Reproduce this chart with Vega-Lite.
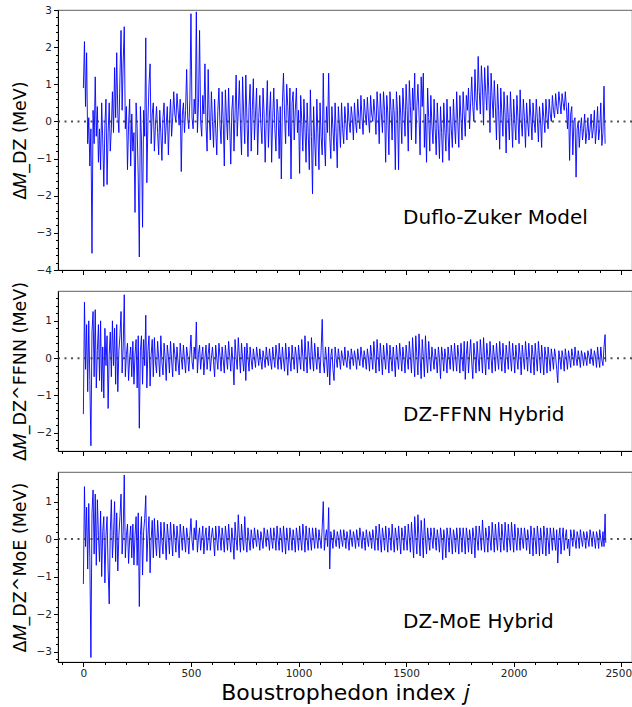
{
"$schema": "https://vega.github.io/schema/vega-lite/v6.json",
"background": "white",
"padding": {"left": 10, "top": 4, "right": 0, "bottom": 2},
"spacing": 21,
"bounds": "flush",
"config": {
  "view": {"stroke": "#808080", "strokeWidth": 1.2},
  "font": "DejaVu Sans",
  "axis": {"grid": false, "domainColor": "#000", "tickColor": "#000", "labelFont": "DejaVu Sans", "labelFontSize": 10.5, "labelColor": "#222", "titleFont": "DejaVu Sans", "titleFontWeight": "normal", "titleColor": "#000"}
},
"datasets": {
"dz": [
{"j":0,"v":0.9},{"j":5,"v":2.15},{"j":10,"v":0.4},{"j":15,"v":1.85},{"j":20,"v":-0.6},{"j":25,"v":0.1},{"j":30,"v":-1.2},{"j":35,"v":-0.2},{"j":40,"v":-3.55},{"j":45,"v":0.3},
{"j":50,"v":-0.6},{"j":55,"v":1.2},{"j":60,"v":-0.4},{"j":65,"v":0.4},{"j":70,"v":-1.1},{"j":75,"v":-0.2},{"j":80,"v":-1.3},{"j":85,"v":0.5},{"j":90,"v":-0.5},{"j":95,"v":-1.75},
{"j":100,"v":-0.1},{"j":105,"v":0.6},{"j":110,"v":-1.7},{"j":115,"v":-0.3},{"j":120,"v":0.5},{"j":125,"v":-0.8},{"j":130,"v":-0.2},{"j":135,"v":0.8},{"j":140,"v":-0.3},{"j":145,"v":1.45},
{"j":150,"v":0.1},{"j":155,"v":1.85},{"j":160,"v":0.2},{"j":165,"v":-0.3},{"j":170,"v":1.2},{"j":175,"v":2.45},{"j":180,"v":0.3},{"j":185,"v":1.6},{"j":190,"v":2.55},{"j":195,"v":-0.2},
{"j":200,"v":0.4},{"j":205,"v":-1.3},{"j":210,"v":-0.1},{"j":215,"v":0.6},{"j":220,"v":-1.2},{"j":225,"v":0.2},{"j":230,"v":-0.8},{"j":235,"v":-0.3},{"j":240,"v":-2.45},{"j":245,"v":0.5},
{"j":250,"v":-0.2},{"j":255,"v":-1.5},{"j":260,"v":-3.65},{"j":265,"v":0.4},{"j":270,"v":-0.5},{"j":275,"v":-2.85},{"j":280,"v":0.3},{"j":285,"v":-0.4},{"j":290,"v":2.25},{"j":295,"v":-1.65},
{"j":300,"v":0.0},{"j":305,"v":1.0},{"j":310,"v":1.55},{"j":315,"v":-0.6},{"j":320,"v":0.2},{"j":325,"v":0.5},{"j":330,"v":-0.8},{"j":335,"v":-0.1},{"j":340,"v":0.4},{"j":345,"v":-0.3},
{"j":350,"v":-0.9},{"j":355,"v":0.3},{"j":360,"v":-0.3},{"j":365,"v":-1.05},{"j":370,"v":0.1},{"j":375,"v":0.5},{"j":380,"v":-0.6},{"j":385,"v":-0.1},{"j":390,"v":0.4},{"j":395,"v":-0.9},
{"j":400,"v":0.0},{"j":405,"v":0.6},{"j":410,"v":-0.4},{"j":415,"v":0.1},{"j":420,"v":0.8},{"j":425,"v":0.2},{"j":430,"v":0.0},{"j":435,"v":0.75},{"j":440,"v":0.3},{"j":445,"v":-0.1},
{"j":450,"v":0.6},{"j":455,"v":-1.35},{"j":460,"v":0.2},{"j":465,"v":0.5},{"j":470,"v":-0.3},{"j":475,"v":0.3},{"j":480,"v":1.4},{"j":485,"v":0.1},{"j":490,"v":-0.2},{"j":495,"v":0.6},
{"j":500,"v":2.9},{"j":505,"v":0.1},{"j":510,"v":-0.2},{"j":515,"v":0.6},{"j":520,"v":0.2},{"j":525,"v":2.95},{"j":530,"v":-0.3},{"j":535,"v":0.5},{"j":540,"v":2.45},{"j":545,"v":0.0},
{"j":550,"v":-0.4},{"j":555,"v":0.7},{"j":560,"v":0.2},{"j":565,"v":1.55},{"j":570,"v":-0.1},{"j":575,"v":-0.8},{"j":580,"v":1.4},{"j":585,"v":0.1},{"j":590,"v":-0.5},{"j":595,"v":0.8},
{"j":600,"v":0.0},{"j":605,"v":-0.7},{"j":610,"v":0.6},{"j":615,"v":-0.2},{"j":620,"v":-0.9},{"j":625,"v":0.3},{"j":630,"v":0.9},{"j":635,"v":-0.1},{"j":640,"v":-0.6},{"j":645,"v":0.8},
{"j":650,"v":0.0},{"j":655,"v":-1.2},{"j":660,"v":0.85},{"j":665,"v":0.1},{"j":670,"v":-0.5},{"j":675,"v":0.9},{"j":680,"v":-0.1},{"j":685,"v":-1.15},{"j":690,"v":0.3},{"j":695,"v":0.7},
{"j":700,"v":-0.8},{"j":705,"v":0.2},{"j":710,"v":1.25},{"j":715,"v":-0.4},{"j":720,"v":0.3},{"j":725,"v":1.1},{"j":730,"v":-0.1},{"j":735,"v":-0.9},{"j":740,"v":1.2},{"j":745,"v":0.2},
{"j":750,"v":-0.6},{"j":755,"v":1.25},{"j":760,"v":0.1},{"j":765,"v":-0.95},{"j":770,"v":0.4},{"j":775,"v":1.0},{"j":780,"v":-0.8},{"j":785,"v":0.3},{"j":790,"v":1.15},{"j":795,"v":-0.5},
{"j":800,"v":0.2},{"j":805,"v":0.9},{"j":810,"v":-0.9},{"j":815,"v":0.1},{"j":820,"v":0.7},{"j":825,"v":-0.1},{"j":830,"v":-0.6},{"j":835,"v":0.9},{"j":840,"v":0.2},{"j":845,"v":-1.1},
{"j":850,"v":0.1},{"j":855,"v":1.1},{"j":860,"v":-0.7},{"j":865,"v":0.2},{"j":870,"v":0.8},{"j":875,"v":-1.1},{"j":880,"v":0.1},{"j":885,"v":0.9},{"j":890,"v":-0.2},{"j":895,"v":-0.8},
{"j":900,"v":0.6},{"j":905,"v":0.2},{"j":910,"v":-1.0},{"j":915,"v":0.4},{"j":920,"v":-1.55},{"j":925,"v":0.5},{"j":930,"v":1.3},{"j":935,"v":0.2},{"j":940,"v":-0.6},{"j":945,"v":1.0},
{"j":950,"v":0.4},{"j":955,"v":-0.4},{"j":960,"v":0.9},{"j":965,"v":-1.55},{"j":970,"v":0.5},{"j":975,"v":0.8},{"j":980,"v":-0.5},{"j":985,"v":0.3},{"j":990,"v":0.9},{"j":995,"v":-0.3},
{"j":1000,"v":0.3},{"j":1005,"v":-1.4},{"j":1010,"v":0.7},{"j":1015,"v":0.0},{"j":1020,"v":-0.8},{"j":1025,"v":0.6},{"j":1030,"v":-0.2},{"j":1035,"v":-1.1},{"j":1040,"v":0.5},{"j":1045,"v":-0.3},
{"j":1050,"v":-1.3},{"j":1055,"v":0.85},{"j":1060,"v":-0.4},{"j":1065,"v":-1.95},{"j":1070,"v":0.4},{"j":1075,"v":-0.5},{"j":1080,"v":-1.2},{"j":1085,"v":0.6},{"j":1090,"v":-0.3},{"j":1095,"v":-1.3},
{"j":1100,"v":0.5},{"j":1105,"v":-0.4},{"j":1110,"v":-0.9},{"j":1115,"v":1.3},{"j":1120,"v":-0.5},{"j":1125,"v":-1.2},{"j":1130,"v":0.4},{"j":1135,"v":-0.3},{"j":1140,"v":1.3},{"j":1145,"v":-0.4},
{"j":1150,"v":-1.0},{"j":1155,"v":0.4},{"j":1160,"v":-0.2},{"j":1165,"v":-0.8},{"j":1170,"v":0.5},{"j":1175,"v":-0.3},{"j":1180,"v":-1.25},{"j":1185,"v":0.4},{"j":1190,"v":-0.1},{"j":1195,"v":-0.7},
{"j":1200,"v":0.5},{"j":1205,"v":-0.2},{"j":1210,"v":-0.6},{"j":1215,"v":0.4},{"j":1220,"v":0.0},{"j":1225,"v":-0.5},{"j":1230,"v":0.5},{"j":1235,"v":0.0},{"j":1240,"v":-0.3},{"j":1245,"v":0.4},
{"j":1250,"v":0.1},{"j":1255,"v":-0.5},{"j":1260,"v":0.5},{"j":1265,"v":0.0},{"j":1270,"v":-0.3},{"j":1275,"v":0.6},{"j":1280,"v":0.1},{"j":1285,"v":-0.2},{"j":1290,"v":0.7},{"j":1295,"v":0.1},
{"j":1300,"v":-0.35},{"j":1305,"v":0.6},{"j":1310,"v":0.2},{"j":1315,"v":-0.1},{"j":1320,"v":0.65},{"j":1325,"v":0.1},{"j":1330,"v":-0.3},{"j":1335,"v":0.7},{"j":1340,"v":0.2},{"j":1345,"v":0.0},
{"j":1350,"v":0.6},{"j":1355,"v":0.2},{"j":1360,"v":-0.35},{"j":1365,"v":0.8},{"j":1370,"v":0.3},{"j":1375,"v":-0.6},{"j":1380,"v":0.75},{"j":1385,"v":0.2},{"j":1390,"v":-0.3},{"j":1395,"v":0.8},
{"j":1400,"v":0.3},{"j":1405,"v":-1.1},{"j":1410,"v":0.7},{"j":1415,"v":0.2},{"j":1420,"v":-0.9},{"j":1425,"v":0.8},{"j":1430,"v":0.3},{"j":1435,"v":-0.5},{"j":1440,"v":0.6},{"j":1445,"v":0.2},
{"j":1450,"v":-1.3},{"j":1455,"v":0.8},{"j":1460,"v":0.3},{"j":1465,"v":-1.3},{"j":1470,"v":0.7},{"j":1475,"v":0.2},{"j":1480,"v":-0.6},{"j":1485,"v":0.9},{"j":1490,"v":0.3},{"j":1495,"v":-0.4},
{"j":1500,"v":1.0},{"j":1505,"v":0.3},{"j":1510,"v":-0.8},{"j":1515,"v":1.1},{"j":1520,"v":0.4},{"j":1525,"v":-0.5},{"j":1530,"v":0.9},{"j":1535,"v":0.3},{"j":1540,"v":1.3},{"j":1545,"v":-0.6},
{"j":1550,"v":0.4},{"j":1555,"v":1.0},{"j":1560,"v":0.2},{"j":1565,"v":-0.9},{"j":1570,"v":1.2},{"j":1575,"v":0.4},{"j":1580,"v":1.3},{"j":1585,"v":-0.7},{"j":1590,"v":0.2},{"j":1595,"v":-1.1},
{"j":1600,"v":0.9},{"j":1605,"v":0.1},{"j":1610,"v":-0.8},{"j":1615,"v":0.7},{"j":1620,"v":-0.1},{"j":1625,"v":-0.6},{"j":1630,"v":0.6},{"j":1635,"v":-0.2},{"j":1640,"v":-0.9},{"j":1645,"v":0.5},
{"j":1650,"v":-0.2},{"j":1655,"v":-1.0},{"j":1660,"v":0.4},{"j":1665,"v":-0.3},{"j":1670,"v":-1.1},{"j":1675,"v":0.5},{"j":1680,"v":-0.2},{"j":1685,"v":-0.8},{"j":1690,"v":0.6},{"j":1695,"v":-0.3},
{"j":1700,"v":-1.05},{"j":1705,"v":0.4},{"j":1710,"v":-0.2},{"j":1715,"v":-0.7},{"j":1720,"v":0.6},{"j":1725,"v":-0.1},{"j":1730,"v":-0.6},{"j":1735,"v":0.8},{"j":1740,"v":0.0},{"j":1745,"v":-0.7},
{"j":1750,"v":0.7},{"j":1755,"v":0.1},{"j":1760,"v":-0.5},{"j":1765,"v":0.8},{"j":1770,"v":0.2},{"j":1775,"v":-0.4},{"j":1780,"v":0.7},{"j":1785,"v":0.3},{"j":1790,"v":0.9},{"j":1795,"v":-0.2},
{"j":1800,"v":0.5},{"j":1805,"v":1.2},{"j":1810,"v":0.4},{"j":1815,"v":0.0},{"j":1820,"v":1.4},{"j":1825,"v":0.6},{"j":1830,"v":0.3},{"j":1835,"v":1.75},{"j":1840,"v":0.8},{"j":1845,"v":0.2},
{"j":1850,"v":1.5},{"j":1855,"v":0.9},{"j":1860,"v":-0.1},{"j":1865,"v":1.45},{"j":1870,"v":0.8},{"j":1875,"v":0.3},{"j":1880,"v":1.5},{"j":1885,"v":0.7},{"j":1890,"v":-0.3},{"j":1895,"v":1.3},
{"j":1900,"v":0.6},{"j":1905,"v":0.1},{"j":1910,"v":1.1},{"j":1915,"v":0.4},{"j":1920,"v":-0.5},{"j":1925,"v":1.0},{"j":1930,"v":0.3},{"j":1935,"v":-0.75},{"j":1940,"v":0.9},{"j":1945,"v":0.2},
{"j":1950,"v":-0.4},{"j":1955,"v":0.8},{"j":1960,"v":0.2},{"j":1965,"v":-0.85},{"j":1970,"v":0.7},{"j":1975,"v":0.1},{"j":1980,"v":-0.5},{"j":1985,"v":0.8},{"j":1990,"v":0.1},{"j":1995,"v":-0.7},
{"j":2000,"v":0.6},{"j":2005,"v":0.0},{"j":2010,"v":-0.5},{"j":2015,"v":0.7},{"j":2020,"v":0.1},{"j":2025,"v":-0.6},{"j":2030,"v":0.85},{"j":2035,"v":0.0},{"j":2040,"v":-0.4},{"j":2045,"v":0.6},
{"j":2050,"v":0.1},{"j":2055,"v":-0.7},{"j":2060,"v":0.5},{"j":2065,"v":0.0},{"j":2070,"v":-0.4},{"j":2075,"v":0.6},{"j":2080,"v":0.1},{"j":2085,"v":-0.5},{"j":2090,"v":0.5},{"j":2095,"v":0.0},
{"j":2100,"v":-0.3},{"j":2105,"v":0.6},{"j":2110,"v":0.1},{"j":2115,"v":-0.55},{"j":2120,"v":0.4},{"j":2125,"v":0.0},{"j":2130,"v":-0.7},{"j":2135,"v":0.5},{"j":2140,"v":0.1},{"j":2145,"v":-0.3},
{"j":2150,"v":0.6},{"j":2155,"v":0.1},{"j":2160,"v":-0.2},{"j":2165,"v":0.6},{"j":2170,"v":0.2},{"j":2175,"v":0.0},{"j":2180,"v":0.7},{"j":2185,"v":0.3},{"j":2190,"v":0.1},{"j":2195,"v":0.75},
{"j":2200,"v":0.4},{"j":2205,"v":0.2},{"j":2210,"v":0.8},{"j":2215,"v":0.5},{"j":2220,"v":0.2},{"j":2225,"v":0.75},{"j":2230,"v":0.5},{"j":2235,"v":0.3},{"j":2240,"v":0.8},{"j":2245,"v":0.4},
{"j":2250,"v":-0.2},{"j":2255,"v":0.5},{"j":2260,"v":-1.05},{"j":2265,"v":0.2},{"j":2270,"v":0.4},{"j":2275,"v":-0.9},{"j":2280,"v":0.0},{"j":2285,"v":0.1},{"j":2290,"v":-1.5},{"j":2295,"v":-0.2},
{"j":2300,"v":0.0},{"j":2305,"v":-0.7},{"j":2310,"v":-0.2},{"j":2315,"v":0.1},{"j":2320,"v":-0.5},{"j":2325,"v":-0.2},{"j":2330,"v":0.2},{"j":2335,"v":-0.6},{"j":2340,"v":-0.3},{"j":2345,"v":0.1},
{"j":2350,"v":-0.5},{"j":2355,"v":-0.2},{"j":2360,"v":0.2},{"j":2365,"v":-0.45},{"j":2370,"v":-0.2},{"j":2375,"v":0.3},{"j":2380,"v":-0.6},{"j":2385,"v":-0.2},{"j":2390,"v":0.4},{"j":2395,"v":-0.5},
{"j":2400,"v":-0.2},{"j":2405,"v":0.5},{"j":2410,"v":-0.65},{"j":2415,"v":-0.3},{"j":2420,"v":0.95},{"j":2425,"v":-0.6}
],
"ffnn": [
{"j":0,"v":-1.5},{"j":5,"v":1.5},{"j":10,"v":-0.3},{"j":15,"v":0.9},{"j":20,"v":-0.9},{"j":25,"v":1.0},{"j":30,"v":-0.6},{"j":35,"v":-2.35},{"j":40,"v":0.7},{"j":45,"v":1.25},
{"j":50,"v":-0.5},{"j":55,"v":1.3},{"j":60,"v":-0.8},{"j":65,"v":0.2},{"j":70,"v":0.9},{"j":75,"v":-0.6},{"j":80,"v":1.0},{"j":85,"v":-0.9},{"j":90,"v":0.3},{"j":95,"v":-1.07},
{"j":100,"v":0.8},{"j":105,"v":-0.2},{"j":110,"v":0.6},{"j":115,"v":-1.35},{"j":120,"v":0.1},{"j":125,"v":0.7},{"j":130,"v":-0.5},{"j":135,"v":1.0},{"j":140,"v":-0.2},{"j":145,"v":0.8},
{"j":150,"v":-0.7},{"j":155,"v":0.9},{"j":160,"v":-0.9},{"j":165,"v":0.2},{"j":170,"v":0.6},{"j":175,"v":1.25},{"j":180,"v":-0.4},{"j":185,"v":0.3},{"j":190,"v":1.7},{"j":195,"v":-0.5},
{"j":200,"v":0.1},{"j":205,"v":0.4},{"j":210,"v":-0.6},{"j":215,"v":0.0},{"j":220,"v":0.3},{"j":225,"v":-0.5},{"j":230,"v":0.45},{"j":235,"v":-0.7},{"j":240,"v":0.1},{"j":245,"v":0.5},
{"j":250,"v":-0.8},{"j":255,"v":0.6},{"j":260,"v":-1.88},{"j":265,"v":0.2},{"j":270,"v":0.6},{"j":275,"v":-0.7},{"j":280,"v":0.5},{"j":285,"v":-0.2},{"j":290,"v":1.15},{"j":295,"v":-0.8},
{"j":300,"v":0.2},{"j":305,"v":0.6},{"j":310,"v":-0.75},{"j":315,"v":0.1},{"j":320,"v":0.5},{"j":325,"v":-0.5},{"j":330,"v":0.55},{"j":335,"v":-0.1},{"j":340,"v":-0.4},{"j":345,"v":0.45},
{"j":350,"v":0.0},{"j":355,"v":-0.5},{"j":360,"v":0.6},{"j":365,"v":-0.1},{"j":370,"v":-0.45},{"j":375,"v":0.4},{"j":380,"v":0.0},{"j":385,"v":-0.6},{"j":390,"v":0.35},{"j":395,"v":0.05},
{"j":400,"v":-0.4},{"j":405,"v":0.45},{"j":410,"v":-0.05},{"j":415,"v":-0.5},{"j":420,"v":0.4},{"j":425,"v":0.1},{"j":430,"v":-0.35},{"j":435,"v":0.3},{"j":440,"v":-0.1},{"j":445,"v":-0.45},
{"j":450,"v":0.4},{"j":455,"v":0.0},{"j":460,"v":-0.3},{"j":465,"v":0.35},{"j":470,"v":-0.05},{"j":475,"v":-0.4},{"j":480,"v":0.3},{"j":485,"v":0.05},{"j":490,"v":-0.35},{"j":495,"v":0.1},
{"j":500,"v":0.62},{"j":505,"v":-0.1},{"j":510,"v":-0.3},{"j":515,"v":0.3},{"j":520,"v":0.0},{"j":525,"v":0.97},{"j":530,"v":-0.4},{"j":535,"v":0.1},{"j":540,"v":0.35},{"j":545,"v":-0.3},
{"j":550,"v":0.05},{"j":555,"v":0.3},{"j":560,"v":-0.45},{"j":565,"v":0.0},{"j":570,"v":0.35},{"j":575,"v":-0.3},{"j":580,"v":0.1},{"j":585,"v":0.4},{"j":590,"v":-0.35},{"j":595,"v":0.0},
{"j":600,"v":0.3},{"j":605,"v":-0.1},{"j":610,"v":-0.5},{"j":615,"v":0.35},{"j":620,"v":0.0},{"j":625,"v":-0.3},{"j":630,"v":0.4},{"j":635,"v":0.05},{"j":640,"v":-0.35},{"j":645,"v":0.3},
{"j":650,"v":-0.05},{"j":655,"v":-0.4},{"j":660,"v":0.35},{"j":665,"v":0.0},{"j":670,"v":-0.3},{"j":675,"v":0.45},{"j":680,"v":0.05},{"j":685,"v":-0.35},{"j":690,"v":0.3},{"j":695,"v":-0.1},
{"j":700,"v":-0.72},{"j":705,"v":0.5},{"j":710,"v":0.0},{"j":715,"v":-0.3},{"j":720,"v":0.55},{"j":725,"v":0.05},{"j":730,"v":-0.4},{"j":735,"v":0.4},{"j":740,"v":0.0},{"j":745,"v":-0.35},
{"j":750,"v":0.3},{"j":755,"v":-0.6},{"j":760,"v":0.4},{"j":765,"v":0.0},{"j":770,"v":-0.35},{"j":775,"v":0.3},{"j":780,"v":-0.05},{"j":785,"v":-0.3},{"j":790,"v":0.25},{"j":795,"v":0.0},
{"j":800,"v":-0.25},{"j":805,"v":0.3},{"j":810,"v":0.05},{"j":815,"v":-0.2},{"j":820,"v":0.25},{"j":825,"v":-0.05},{"j":830,"v":-0.3},{"j":835,"v":0.2},{"j":840,"v":0.0},{"j":845,"v":-0.25},
{"j":850,"v":0.3},{"j":855,"v":0.0},{"j":860,"v":-0.2},{"j":865,"v":0.25},{"j":870,"v":-0.05},{"j":875,"v":-0.3},{"j":880,"v":0.3},{"j":885,"v":0.0},{"j":890,"v":-0.25},{"j":895,"v":0.35},
{"j":900,"v":0.05},{"j":905,"v":-0.3},{"j":910,"v":0.4},{"j":915,"v":0.0},{"j":920,"v":-0.3},{"j":925,"v":0.3},{"j":930,"v":-0.05},{"j":935,"v":-0.35},{"j":940,"v":0.4},{"j":945,"v":0.0},
{"j":950,"v":-0.46},{"j":955,"v":0.3},{"j":960,"v":-0.05},{"j":965,"v":-0.35},{"j":970,"v":0.35},{"j":975,"v":0.0},{"j":980,"v":-0.3},{"j":985,"v":0.3},{"j":990,"v":0.05},{"j":995,"v":-0.4},
{"j":1000,"v":0.35},{"j":1005,"v":0.0},{"j":1010,"v":-0.3},{"j":1015,"v":0.5},{"j":1020,"v":0.05},{"j":1025,"v":-0.35},{"j":1030,"v":0.6},{"j":1035,"v":0.0},{"j":1040,"v":-0.4},{"j":1045,"v":0.45},
{"j":1050,"v":0.05},{"j":1055,"v":-0.3},{"j":1060,"v":0.55},{"j":1065,"v":0.0},{"j":1070,"v":-0.35},{"j":1075,"v":0.4},{"j":1080,"v":0.0},{"j":1085,"v":-0.3},{"j":1090,"v":0.3},{"j":1095,"v":-0.05},
{"j":1100,"v":-0.4},{"j":1105,"v":0.2},{"j":1110,"v":1.04},{"j":1115,"v":-0.1},{"j":1120,"v":-0.4},{"j":1125,"v":0.3},{"j":1130,"v":0.0},{"j":1135,"v":-0.5},{"j":1140,"v":0.3},{"j":1145,"v":-0.72},
{"j":1150,"v":0.05},{"j":1155,"v":0.25},{"j":1160,"v":-0.3},{"j":1165,"v":-0.6},{"j":1170,"v":0.3},{"j":1175,"v":0.0},{"j":1180,"v":-0.25},{"j":1185,"v":0.25},{"j":1190,"v":0.0},{"j":1195,"v":-0.3},
{"j":1200,"v":0.2},{"j":1205,"v":0.0},{"j":1210,"v":-0.2},{"j":1215,"v":0.3},{"j":1220,"v":-0.05},{"j":1225,"v":-0.25},{"j":1230,"v":0.2},{"j":1235,"v":0.0},{"j":1240,"v":-0.3},{"j":1245,"v":0.25},
{"j":1250,"v":0.05},{"j":1255,"v":-0.2},{"j":1260,"v":0.2},{"j":1265,"v":0.0},{"j":1270,"v":-0.3},{"j":1275,"v":0.25},{"j":1280,"v":0.0},{"j":1285,"v":-0.2},{"j":1290,"v":0.3},{"j":1295,"v":0.05},
{"j":1300,"v":-0.25},{"j":1305,"v":0.2},{"j":1310,"v":0.0},{"j":1315,"v":-0.3},{"j":1320,"v":0.25},{"j":1325,"v":0.0},{"j":1330,"v":-0.35},{"j":1335,"v":0.35},{"j":1340,"v":0.05},{"j":1345,"v":-0.3},
{"j":1350,"v":0.45},{"j":1355,"v":0.0},{"j":1360,"v":-0.4},{"j":1365,"v":0.5},{"j":1370,"v":0.05},{"j":1375,"v":-0.35},{"j":1380,"v":0.4},{"j":1385,"v":0.0},{"j":1390,"v":-0.45},{"j":1395,"v":0.35},
{"j":1400,"v":0.0},{"j":1405,"v":-0.3},{"j":1410,"v":0.4},{"j":1415,"v":0.05},{"j":1420,"v":-0.4},{"j":1425,"v":0.35},{"j":1430,"v":0.0},{"j":1435,"v":-0.35},{"j":1440,"v":0.3},{"j":1445,"v":-0.05},
{"j":1450,"v":-0.5},{"j":1455,"v":0.35},{"j":1460,"v":0.0},{"j":1465,"v":-0.3},{"j":1470,"v":0.4},{"j":1475,"v":0.05},{"j":1480,"v":-0.35},{"j":1485,"v":0.3},{"j":1490,"v":0.0},{"j":1495,"v":-0.4},
{"j":1500,"v":0.35},{"j":1505,"v":0.0},{"j":1510,"v":-0.3},{"j":1515,"v":0.45},{"j":1520,"v":0.05},{"j":1525,"v":-0.4},{"j":1530,"v":0.55},{"j":1535,"v":0.0},{"j":1540,"v":-0.5},{"j":1545,"v":0.6},
{"j":1550,"v":0.05},{"j":1555,"v":-0.45},{"j":1560,"v":0.65},{"j":1565,"v":0.0},{"j":1570,"v":-0.55},{"j":1575,"v":0.5},{"j":1580,"v":0.05},{"j":1585,"v":-0.5},{"j":1590,"v":0.6},{"j":1595,"v":0.0},
{"j":1600,"v":-0.4},{"j":1605,"v":0.45},{"j":1610,"v":0.0},{"j":1615,"v":-0.35},{"j":1620,"v":0.3},{"j":1625,"v":0.0},{"j":1630,"v":-0.3},{"j":1635,"v":0.25},{"j":1640,"v":-0.05},{"j":1645,"v":-0.4},
{"j":1650,"v":0.3},{"j":1655,"v":0.0},{"j":1660,"v":-0.55},{"j":1665,"v":0.3},{"j":1670,"v":0.05},{"j":1675,"v":-0.35},{"j":1680,"v":0.25},{"j":1685,"v":0.0},{"j":1690,"v":-0.4},{"j":1695,"v":0.3},
{"j":1700,"v":0.0},{"j":1705,"v":-0.3},{"j":1710,"v":0.35},{"j":1715,"v":0.05},{"j":1720,"v":-0.35},{"j":1725,"v":0.4},{"j":1730,"v":0.0},{"j":1735,"v":-0.35},{"j":1740,"v":0.35},{"j":1745,"v":0.05},
{"j":1750,"v":-0.4},{"j":1755,"v":0.4},{"j":1760,"v":0.0},{"j":1765,"v":-0.35},{"j":1770,"v":0.45},{"j":1775,"v":-0.57},{"j":1780,"v":0.1},{"j":1785,"v":0.45},{"j":1790,"v":-0.4},{"j":1795,"v":0.05},
{"j":1800,"v":0.5},{"j":1805,"v":-0.1},{"j":1810,"v":-0.55},{"j":1815,"v":0.4},{"j":1820,"v":0.05},{"j":1825,"v":-0.4},{"j":1830,"v":0.45},{"j":1835,"v":0.0},{"j":1840,"v":-0.35},{"j":1845,"v":0.5},
{"j":1850,"v":0.05},{"j":1855,"v":-0.4},{"j":1860,"v":0.55},{"j":1865,"v":0.0},{"j":1870,"v":-0.45},{"j":1875,"v":0.4},{"j":1880,"v":0.05},{"j":1885,"v":-0.3},{"j":1890,"v":0.45},{"j":1895,"v":0.0},
{"j":1900,"v":-0.4},{"j":1905,"v":0.35},{"j":1910,"v":0.05},{"j":1915,"v":-0.35},{"j":1920,"v":0.4},{"j":1925,"v":0.0},{"j":1930,"v":-0.3},{"j":1935,"v":0.45},{"j":1940,"v":0.05},{"j":1945,"v":-0.35},
{"j":1950,"v":0.4},{"j":1955,"v":0.0},{"j":1960,"v":-0.4},{"j":1965,"v":0.35},{"j":1970,"v":0.05},{"j":1975,"v":-0.3},{"j":1980,"v":0.45},{"j":1985,"v":0.0},{"j":1990,"v":-0.35},{"j":1995,"v":0.4},
{"j":2000,"v":0.05},{"j":2005,"v":-0.4},{"j":2010,"v":0.35},{"j":2015,"v":0.0},{"j":2020,"v":-0.3},{"j":2025,"v":0.4},{"j":2030,"v":0.05},{"j":2035,"v":-0.45},{"j":2040,"v":0.35},{"j":2045,"v":0.0},
{"j":2050,"v":-0.3},{"j":2055,"v":0.45},{"j":2060,"v":0.05},{"j":2065,"v":-0.35},{"j":2070,"v":0.4},{"j":2075,"v":0.0},{"j":2080,"v":-0.4},{"j":2085,"v":0.35},{"j":2090,"v":0.05},{"j":2095,"v":-0.45},
{"j":2100,"v":0.4},{"j":2105,"v":0.0},{"j":2110,"v":-0.35},{"j":2115,"v":0.45},{"j":2120,"v":0.05},{"j":2125,"v":-0.4},{"j":2130,"v":0.35},{"j":2135,"v":0.0},{"j":2140,"v":-0.45},{"j":2145,"v":0.3},
{"j":2150,"v":0.05},{"j":2155,"v":-0.4},{"j":2160,"v":0.3},{"j":2165,"v":0.0},{"j":2170,"v":-0.35},{"j":2175,"v":0.25},{"j":2180,"v":0.0},{"j":2185,"v":-0.3},{"j":2190,"v":0.25},{"j":2195,"v":0.05},
{"j":2200,"v":-0.3},{"j":2205,"v":-0.66},{"j":2210,"v":0.2},{"j":2215,"v":0.0},{"j":2220,"v":-0.3},{"j":2225,"v":0.2},{"j":2230,"v":0.0},{"j":2235,"v":-0.35},{"j":2240,"v":0.25},{"j":2245,"v":0.0},
{"j":2250,"v":-0.3},{"j":2255,"v":0.2},{"j":2260,"v":0.0},{"j":2265,"v":-0.25},{"j":2270,"v":0.25},{"j":2275,"v":0.05},{"j":2280,"v":-0.2},{"j":2285,"v":0.3},{"j":2290,"v":0.0},{"j":2295,"v":-0.2},
{"j":2300,"v":0.2},{"j":2305,"v":0.0},{"j":2310,"v":-0.25},{"j":2315,"v":0.2},{"j":2320,"v":0.05},{"j":2325,"v":-0.2},{"j":2330,"v":0.15},{"j":2335,"v":0.0},{"j":2340,"v":-0.2},{"j":2345,"v":0.2},
{"j":2350,"v":0.05},{"j":2355,"v":-0.15},{"j":2360,"v":0.25},{"j":2365,"v":0.0},{"j":2370,"v":-0.2},{"j":2375,"v":0.2},{"j":2380,"v":0.05},{"j":2385,"v":-0.25},{"j":2390,"v":0.3},{"j":2395,"v":0.0},
{"j":2400,"v":-0.25},{"j":2405,"v":0.3},{"j":2410,"v":-0.05},{"j":2415,"v":-0.2},{"j":2420,"v":0.3},{"j":2425,"v":0.63},{"j":2428,"v":-0.1}
],
"moe": [
{"j":0,"v":-1.2},{"j":5,"v":1.4},{"j":10,"v":-0.2},{"j":15,"v":0.85},{"j":20,"v":-0.8},{"j":25,"v":0.95},{"j":30,"v":-0.5},{"j":35,"v":-3.16},{"j":40,"v":0.7},{"j":45,"v":1.31},
{"j":50,"v":-0.4},{"j":55,"v":1.2},{"j":60,"v":-0.7},{"j":65,"v":1.05},{"j":70,"v":0.1},{"j":75,"v":-0.6},{"j":80,"v":0.75},{"j":85,"v":-1.0},{"j":90,"v":0.2},{"j":95,"v":0.6},
{"j":100,"v":-1.17},{"j":105,"v":0.1},{"j":110,"v":0.6},{"j":115,"v":-0.8},{"j":120,"v":-1.73},{"j":125,"v":0.2},{"j":130,"v":1.05},{"j":135,"v":-0.5},{"j":140,"v":0.1},{"j":145,"v":1.0},
{"j":150,"v":-0.6},{"j":155,"v":0.7},{"j":160,"v":-0.85},{"j":165,"v":0.1},{"j":170,"v":0.6},{"j":175,"v":1.2},{"j":180,"v":-0.4},{"j":185,"v":0.2},{"j":190,"v":1.71},{"j":195,"v":-0.5},
{"j":200,"v":0.1},{"j":205,"v":0.4},{"j":210,"v":-0.65},{"j":215,"v":0.0},{"j":220,"v":0.35},{"j":225,"v":-0.5},{"j":230,"v":0.4},{"j":235,"v":-0.69},{"j":240,"v":0.1},{"j":245,"v":0.6},
{"j":250,"v":-0.7},{"j":255,"v":0.7},{"j":260,"v":-1.8},{"j":265,"v":0.1},{"j":270,"v":0.6},{"j":275,"v":-0.96},{"j":280,"v":0.2},{"j":285,"v":0.55},{"j":290,"v":1.16},{"j":295,"v":-0.6},
{"j":300,"v":0.1},{"j":305,"v":0.6},{"j":310,"v":-0.9},{"j":315,"v":0.0},{"j":320,"v":0.5},{"j":325,"v":-0.5},{"j":330,"v":0.55},{"j":335,"v":-0.05},{"j":340,"v":-0.45},{"j":345,"v":0.5},
{"j":350,"v":0.0},{"j":355,"v":-0.5},{"j":360,"v":0.45},{"j":365,"v":-0.05},{"j":370,"v":-0.4},{"j":375,"v":0.45},{"j":380,"v":0.0},{"j":385,"v":-0.55},{"j":390,"v":0.4},{"j":395,"v":0.05},
{"j":400,"v":-0.4},{"j":405,"v":0.45},{"j":410,"v":0.0},{"j":415,"v":-0.45},{"j":420,"v":0.4},{"j":425,"v":0.05},{"j":430,"v":-0.35},{"j":435,"v":0.35},{"j":440,"v":0.0},{"j":445,"v":-0.5},
{"j":450,"v":0.4},{"j":455,"v":0.05},{"j":460,"v":-0.3},{"j":465,"v":0.35},{"j":470,"v":0.0},{"j":475,"v":-0.35},{"j":480,"v":0.3},{"j":485,"v":0.05},{"j":490,"v":-0.4},{"j":495,"v":0.1},
{"j":500,"v":0.55},{"j":505,"v":-0.05},{"j":510,"v":-0.3},{"j":515,"v":0.3},{"j":520,"v":0.0},{"j":525,"v":0.5},{"j":530,"v":-0.35},{"j":535,"v":0.05},{"j":540,"v":0.3},{"j":545,"v":-0.3},
{"j":550,"v":0.0},{"j":555,"v":0.35},{"j":560,"v":-0.4},{"j":565,"v":0.05},{"j":570,"v":0.3},{"j":575,"v":-0.3},{"j":580,"v":0.0},{"j":585,"v":0.35},{"j":590,"v":-0.3},{"j":595,"v":0.05},
{"j":600,"v":0.3},{"j":605,"v":-0.05},{"j":610,"v":-0.45},{"j":615,"v":0.35},{"j":620,"v":0.0},{"j":625,"v":-0.3},{"j":630,"v":0.35},{"j":635,"v":0.05},{"j":640,"v":-0.3},{"j":645,"v":0.3},
{"j":650,"v":0.0},{"j":655,"v":-0.35},{"j":660,"v":0.35},{"j":665,"v":0.05},{"j":670,"v":-0.3},{"j":675,"v":0.4},{"j":680,"v":0.0},{"j":685,"v":-0.35},{"j":690,"v":0.3},{"j":695,"v":-0.05},
{"j":700,"v":-0.54},{"j":705,"v":0.45},{"j":710,"v":0.0},{"j":715,"v":-0.3},{"j":720,"v":0.65},{"j":725,"v":0.05},{"j":730,"v":-0.35},{"j":735,"v":0.4},{"j":740,"v":0.0},{"j":745,"v":-0.3},
{"j":750,"v":0.6},{"j":755,"v":-0.05},{"j":760,"v":-0.35},{"j":765,"v":0.3},{"j":770,"v":0.0},{"j":775,"v":-0.3},{"j":780,"v":0.25},{"j":785,"v":0.0},{"j":790,"v":-0.25},{"j":795,"v":0.3},
{"j":800,"v":0.05},{"j":805,"v":-0.2},{"j":810,"v":0.25},{"j":815,"v":0.0},{"j":820,"v":-0.3},{"j":825,"v":0.2},{"j":830,"v":0.0},{"j":835,"v":-0.25},{"j":840,"v":0.3},{"j":845,"v":0.05},
{"j":850,"v":-0.2},{"j":855,"v":0.25},{"j":860,"v":0.0},{"j":865,"v":-0.3},{"j":870,"v":0.3},{"j":875,"v":0.0},{"j":880,"v":-0.25},{"j":885,"v":0.3},{"j":890,"v":0.05},{"j":895,"v":-0.3},
{"j":900,"v":0.35},{"j":905,"v":0.0},{"j":910,"v":-0.3},{"j":915,"v":0.3},{"j":920,"v":0.05},{"j":925,"v":-0.35},{"j":930,"v":0.35},{"j":935,"v":0.0},{"j":940,"v":-0.4},{"j":945,"v":0.3},
{"j":950,"v":0.0},{"j":955,"v":-0.3},{"j":960,"v":0.3},{"j":965,"v":0.05},{"j":970,"v":-0.3},{"j":975,"v":0.25},{"j":980,"v":0.0},{"j":985,"v":-0.35},{"j":990,"v":0.3},{"j":995,"v":0.05},
{"j":1000,"v":-0.3},{"j":1005,"v":0.35},{"j":1010,"v":0.0},{"j":1015,"v":-0.3},{"j":1020,"v":0.4},{"j":1025,"v":0.05},{"j":1030,"v":-0.35},{"j":1035,"v":0.35},{"j":1040,"v":0.0},{"j":1045,"v":-0.3},
{"j":1050,"v":0.3},{"j":1055,"v":0.0},{"j":1060,"v":-0.3},{"j":1065,"v":0.3},{"j":1070,"v":0.05},{"j":1075,"v":-0.25},{"j":1080,"v":0.3},{"j":1085,"v":0.0},{"j":1090,"v":-0.25},{"j":1095,"v":0.25},
{"j":1100,"v":0.0},{"j":1105,"v":-0.25},{"j":1110,"v":0.3},{"j":1115,"v":1.0},{"j":1120,"v":-0.3},{"j":1125,"v":0.05},{"j":1130,"v":0.25},{"j":1135,"v":-0.2},{"j":1140,"v":0.84},{"j":1145,"v":-0.8},
{"j":1150,"v":0.2},{"j":1155,"v":0.0},{"j":1160,"v":-0.25},{"j":1165,"v":0.25},{"j":1170,"v":0.0},{"j":1175,"v":-0.2},{"j":1180,"v":0.2},{"j":1185,"v":0.05},{"j":1190,"v":-0.25},{"j":1195,"v":0.25},
{"j":1200,"v":0.0},{"j":1205,"v":-0.2},{"j":1210,"v":0.25},{"j":1215,"v":0.05},{"j":1220,"v":-0.25},{"j":1225,"v":0.2},{"j":1230,"v":0.0},{"j":1235,"v":-0.3},{"j":1240,"v":0.25},{"j":1245,"v":0.0},
{"j":1250,"v":-0.2},{"j":1255,"v":0.2},{"j":1260,"v":0.05},{"j":1265,"v":-0.25},{"j":1270,"v":0.25},{"j":1275,"v":0.0},{"j":1280,"v":-0.2},{"j":1285,"v":0.3},{"j":1290,"v":0.05},{"j":1295,"v":-0.25},
{"j":1300,"v":0.2},{"j":1305,"v":0.0},{"j":1310,"v":-0.3},{"j":1315,"v":0.25},{"j":1320,"v":0.0},{"j":1325,"v":-0.2},{"j":1330,"v":0.2},{"j":1335,"v":0.05},{"j":1340,"v":-0.25},{"j":1345,"v":0.25},
{"j":1350,"v":0.0},{"j":1355,"v":-0.3},{"j":1360,"v":0.35},{"j":1365,"v":0.05},{"j":1370,"v":-0.3},{"j":1375,"v":0.4},{"j":1380,"v":0.0},{"j":1385,"v":-0.35},{"j":1390,"v":0.3},{"j":1395,"v":0.05},
{"j":1400,"v":-0.3},{"j":1405,"v":0.35},{"j":1410,"v":0.0},{"j":1415,"v":-0.35},{"j":1420,"v":0.3},{"j":1425,"v":0.05},{"j":1430,"v":-0.3},{"j":1435,"v":0.4},{"j":1440,"v":0.0},{"j":1445,"v":-0.35},
{"j":1450,"v":0.3},{"j":1455,"v":0.05},{"j":1460,"v":-0.3},{"j":1465,"v":0.35},{"j":1470,"v":0.0},{"j":1475,"v":-0.4},{"j":1480,"v":0.3},{"j":1485,"v":0.05},{"j":1490,"v":-0.3},{"j":1495,"v":0.35},
{"j":1500,"v":0.0},{"j":1505,"v":-0.3},{"j":1510,"v":0.4},{"j":1515,"v":0.05},{"j":1520,"v":-0.35},{"j":1525,"v":0.45},{"j":1530,"v":0.0},{"j":1535,"v":-0.5},{"j":1540,"v":0.6},{"j":1545,"v":0.05},
{"j":1550,"v":-0.4},{"j":1555,"v":0.65},{"j":1560,"v":0.0},{"j":1565,"v":-0.45},{"j":1570,"v":0.5},{"j":1575,"v":0.05},{"j":1580,"v":-0.5},{"j":1585,"v":0.55},{"j":1590,"v":0.0},{"j":1595,"v":-0.4},
{"j":1600,"v":0.3},{"j":1605,"v":0.0},{"j":1610,"v":-0.3},{"j":1615,"v":0.3},{"j":1620,"v":0.05},{"j":1625,"v":-0.25},{"j":1630,"v":0.3},{"j":1635,"v":0.0},{"j":1640,"v":-0.3},{"j":1645,"v":0.25},
{"j":1650,"v":0.0},{"j":1655,"v":-0.35},{"j":1660,"v":0.3},{"j":1665,"v":0.05},{"j":1670,"v":-0.55},{"j":1675,"v":0.25},{"j":1680,"v":0.0},{"j":1685,"v":-0.5},{"j":1690,"v":0.3},{"j":1695,"v":0.05},
{"j":1700,"v":-0.35},{"j":1705,"v":0.3},{"j":1710,"v":0.0},{"j":1715,"v":-0.4},{"j":1720,"v":0.25},{"j":1725,"v":0.05},{"j":1730,"v":-0.35},{"j":1735,"v":0.3},{"j":1740,"v":0.0},{"j":1745,"v":-0.4},
{"j":1750,"v":0.3},{"j":1755,"v":0.05},{"j":1760,"v":-0.35},{"j":1765,"v":0.3},{"j":1770,"v":0.0},{"j":1775,"v":-0.4},{"j":1780,"v":0.3},{"j":1785,"v":0.05},{"j":1790,"v":-0.35},{"j":1795,"v":0.25},
{"j":1800,"v":0.0},{"j":1805,"v":-0.4},{"j":1810,"v":0.3},{"j":1815,"v":0.05},{"j":1820,"v":-0.5},{"j":1825,"v":0.35},{"j":1830,"v":0.0},{"j":1835,"v":-0.3},{"j":1840,"v":0.35},{"j":1845,"v":0.05},
{"j":1850,"v":-0.3},{"j":1855,"v":0.51},{"j":1860,"v":0.0},{"j":1865,"v":-0.35},{"j":1870,"v":0.3},{"j":1875,"v":0.05},{"j":1880,"v":-0.35},{"j":1885,"v":0.35},{"j":1890,"v":0.0},{"j":1895,"v":-0.3},
{"j":1900,"v":0.45},{"j":1905,"v":0.05},{"j":1910,"v":-0.35},{"j":1915,"v":0.4},{"j":1920,"v":0.0},{"j":1925,"v":-0.3},{"j":1930,"v":0.45},{"j":1935,"v":0.05},{"j":1940,"v":-0.35},{"j":1945,"v":0.4},
{"j":1950,"v":0.0},{"j":1955,"v":-0.3},{"j":1960,"v":0.45},{"j":1965,"v":0.05},{"j":1970,"v":-0.35},{"j":1975,"v":0.4},{"j":1980,"v":0.0},{"j":1985,"v":-0.3},{"j":1990,"v":0.45},{"j":1995,"v":0.05},
{"j":2000,"v":-0.35},{"j":2005,"v":0.4},{"j":2010,"v":0.0},{"j":2015,"v":-0.3},{"j":2020,"v":0.3},{"j":2025,"v":0.05},{"j":2030,"v":-0.3},{"j":2035,"v":0.3},{"j":2040,"v":0.0},{"j":2045,"v":-0.25},
{"j":2050,"v":0.3},{"j":2055,"v":0.05},{"j":2060,"v":-0.3},{"j":2065,"v":0.25},{"j":2070,"v":0.0},{"j":2075,"v":-0.4},{"j":2080,"v":0.35},{"j":2085,"v":0.05},{"j":2090,"v":-0.45},{"j":2095,"v":0.3},
{"j":2100,"v":0.0},{"j":2105,"v":-0.4},{"j":2110,"v":0.35},{"j":2115,"v":0.05},{"j":2120,"v":-0.45},{"j":2125,"v":0.3},{"j":2130,"v":0.0},{"j":2135,"v":-0.4},{"j":2140,"v":0.35},{"j":2145,"v":0.05},
{"j":2150,"v":-0.45},{"j":2155,"v":0.3},{"j":2160,"v":0.0},{"j":2165,"v":-0.4},{"j":2170,"v":0.3},{"j":2175,"v":0.05},{"j":2180,"v":-0.3},{"j":2185,"v":0.3},{"j":2190,"v":0.0},{"j":2195,"v":-0.3},
{"j":2200,"v":0.25},{"j":2205,"v":-0.64},{"j":2210,"v":0.05},{"j":2215,"v":0.3},{"j":2220,"v":-0.4},{"j":2225,"v":0.0},{"j":2230,"v":0.3},{"j":2235,"v":-0.3},{"j":2240,"v":0.05},{"j":2245,"v":0.25},
{"j":2250,"v":-0.25},{"j":2255,"v":0.0},{"j":2260,"v":-0.45},{"j":2265,"v":0.25},{"j":2270,"v":0.05},{"j":2275,"v":-0.2},{"j":2280,"v":0.25},{"j":2285,"v":0.0},{"j":2290,"v":-0.25},{"j":2295,"v":0.2},
{"j":2300,"v":0.05},{"j":2305,"v":-0.25},{"j":2310,"v":0.25},{"j":2315,"v":0.0},{"j":2320,"v":-0.2},{"j":2325,"v":0.2},{"j":2330,"v":0.05},{"j":2335,"v":-0.25},{"j":2340,"v":0.2},{"j":2345,"v":0.0},
{"j":2350,"v":-0.2},{"j":2355,"v":0.25},{"j":2360,"v":0.05},{"j":2365,"v":-0.2},{"j":2370,"v":0.2},{"j":2375,"v":0.0},{"j":2380,"v":-0.25},{"j":2385,"v":0.2},{"j":2390,"v":0.05},{"j":2395,"v":-0.25},
{"j":2400,"v":0.25},{"j":2405,"v":0.0},{"j":2410,"v":-0.2},{"j":2415,"v":0.2},{"j":2420,"v":-0.2},{"j":2425,"v":0.67},{"j":2428,"v":-0.1}
]
},
"vconcat": [
{
  "width": 574, "height": 260,
  "layer": [
    {"data": {"name": "dz"},
     "mark": {"type": "line", "color": "#0000ff", "strokeWidth": 1, "opacity": 0.9, "clip": true},
     "encoding": {
       "x": {"field": "j", "type": "quantitative", "scale": {"domain": [-118, 2550], "nice": false, "zero": false},
             "axis": {"values": [0,500,1000,1500,2000,2500], "labels": false, "title": null, "tickSize": 4.5}},
       "y": {"field": "v", "type": "quantitative", "scale": {"domain": [-4, 3], "nice": false, "zero": false},
             "axis": {"values": [-4,-3,-2,-1,0,1,2,3], "title": "Δ𝑀_DZ (MeV)", "titleFontSize": 17.5, "titlePadding": 7, "tickSize": 4.5, "labelPadding": 2, "labelExpr": "replace(datum.label, '-', '−')"}}
     }},
    {"data": {"values": [{}]},
     "mark": {"type": "rule", "strokeDash": [2, 4.5], "strokeWidth": 2, "color": "#333", "opacity": 0.85},
     "encoding": {"y": {"datum": 0, "type": "quantitative", "scale": {"domain": [-4, 3], "nice": false, "zero": false}, "axis": null}}},
    {"data": {"values": [{}]},
     "mark": {"type": "text", "align": "left", "baseline": "middle", "fontSize": 20, "font": "DejaVu Sans", "color": "#000", "text": "Duflo-Zuker Model"},
     "encoding": {
       "x": {"datum": 1486, "type": "quantitative", "scale": {"domain": [-118, 2550], "nice": false, "zero": false},
             "axis": {"orient": "bottom", "values": [-100,100,200,300,400,600,700,800,900,1100,1200,1300,1400,1600,1700,1800,1900,2100,2200,2300,2400,2500], "labels": false, "title": null, "domain": false, "tickSize": 2.5}},
       "y": {"datum": -2.6, "type": "quantitative", "scale": {"domain": [-4, 3], "nice": false, "zero": false},
             "axis": {"orient": "left", "values": [-3.8,-3.6,-3.4,-3.2,-2.8,-2.6,-2.4,-2.2,-1.8,-1.6,-1.4,-1.2,-0.8,-0.6,-0.4,-0.2,0.2,0.4,0.6,0.8,1.2,1.4,1.6,1.8,2.2,2.4,2.6,2.8], "labels": false, "title": null, "domain": false, "tickSize": 2.5}}
     }}
  ],
  "resolve": {"axis": {"x": "independent", "y": "independent"}}
},
{
  "width": 574, "height": 160,
  "layer": [
    {"data": {"name": "ffnn"},
     "mark": {"type": "line", "color": "#0000ff", "strokeWidth": 1, "opacity": 0.9, "clip": true},
     "encoding": {
       "x": {"field": "j", "type": "quantitative", "scale": {"domain": [-118, 2550], "nice": false, "zero": false},
             "axis": {"values": [0,500,1000,1500,2000,2500], "labels": false, "title": null, "tickSize": 4.5}},
       "y": {"field": "v", "type": "quantitative", "scale": {"domain": [-2.49, 1.8], "nice": false, "zero": false},
             "axis": {"values": [-2,-1,0,1], "title": "Δ𝑀_DZ^FFNN (MeV)", "titleFontSize": 17.5, "titlePadding": 7, "tickSize": 4.5, "labelPadding": 2, "labelExpr": "replace(datum.label, '-', '−')"}}
     }},
    {"data": {"values": [{}]},
     "mark": {"type": "rule", "strokeDash": [2, 4.5], "strokeWidth": 2, "color": "#333", "opacity": 0.85},
     "encoding": {"y": {"datum": 0, "type": "quantitative", "scale": {"domain": [-2.49, 1.8], "nice": false, "zero": false}, "axis": null}}},
    {"data": {"values": [{}]},
     "mark": {"type": "text", "align": "left", "baseline": "middle", "fontSize": 20, "font": "DejaVu Sans", "color": "#000", "text": "DZ-FFNN Hybrid"},
     "encoding": {
       "x": {"datum": 1486, "type": "quantitative", "scale": {"domain": [-118, 2550], "nice": false, "zero": false},
             "axis": {"orient": "bottom", "values": [-100,100,200,300,400,600,700,800,900,1100,1200,1300,1400,1600,1700,1800,1900,2100,2200,2300,2400,2500], "labels": false, "title": null, "domain": false, "tickSize": 2.5}},
       "y": {"datum": -1.52, "type": "quantitative", "scale": {"domain": [-2.49, 1.8], "nice": false, "zero": false},
             "axis": {"orient": "left", "values": [-2.4,-2.2,-1.8,-1.6,-1.4,-1.2,-0.8,-0.6,-0.4,-0.2,0.2,0.4,0.6,0.8,1.2,1.4,1.6], "labels": false, "title": null, "domain": false, "tickSize": 2.5}}
     }}
  ],
  "resolve": {"axis": {"x": "independent", "y": "independent"}}
},
{
  "width": 574, "height": 190,
  "layer": [
    {"data": {"name": "moe"},
     "mark": {"type": "line", "color": "#0000ff", "strokeWidth": 1, "opacity": 0.9, "clip": true},
     "encoding": {
       "x": {"field": "j", "type": "quantitative", "scale": {"domain": [-118, 2550], "nice": false, "zero": false},
             "axis": {"values": [0,500,1000,1500,2000,2500], "format": "d", "title": "Boustrophedon index 𝑗", "titleFontSize": 22, "titlePadding": 3, "tickSize": 4.5, "labelPadding": 2, "labelOffset": {"condition": {"test": "datum.value === 2500", "value": -3}, "value": 0}}},
       "y": {"field": "v", "type": "quantitative", "scale": {"domain": [-3.28, 1.79], "nice": false, "zero": false},
             "axis": {"values": [-3,-2,-1,0,1], "title": "Δ𝑀_DZ^MoE (MeV)", "titleFontSize": 17.5, "titlePadding": 7, "tickSize": 4.5, "labelPadding": 2, "labelExpr": "replace(datum.label, '-', '−')"}}
     }},
    {"data": {"values": [{}]},
     "mark": {"type": "rule", "strokeDash": [2, 4.5], "strokeWidth": 2, "color": "#333", "opacity": 0.85},
     "encoding": {"y": {"datum": 0, "type": "quantitative", "scale": {"domain": [-3.28, 1.79], "nice": false, "zero": false}, "axis": null}}},
    {"data": {"values": [{}]},
     "mark": {"type": "text", "align": "left", "baseline": "middle", "fontSize": 20, "font": "DejaVu Sans", "color": "#000", "text": "DZ-MoE Hybrid"},
     "encoding": {
       "x": {"datum": 1486, "type": "quantitative", "scale": {"domain": [-118, 2550], "nice": false, "zero": false},
             "axis": {"orient": "bottom", "values": [-100,100,200,300,400,600,700,800,900,1100,1200,1300,1400,1600,1700,1800,1900,2100,2200,2300,2400,2500], "labels": false, "title": null, "domain": false, "tickSize": 2.5}},
       "y": {"datum": -2.2, "type": "quantitative", "scale": {"domain": [-3.28, 1.79], "nice": false, "zero": false},
             "axis": {"orient": "left", "values": [-3.2,-2.8,-2.6,-2.4,-2.2,-1.8,-1.6,-1.4,-1.2,-0.8,-0.6,-0.4,-0.2,0.2,0.4,0.6,0.8,1.2,1.4,1.6], "labels": false, "title": null, "domain": false, "tickSize": 2.5}}
     }}
  ],
  "resolve": {"axis": {"x": "independent", "y": "independent"}}
}
]
}
